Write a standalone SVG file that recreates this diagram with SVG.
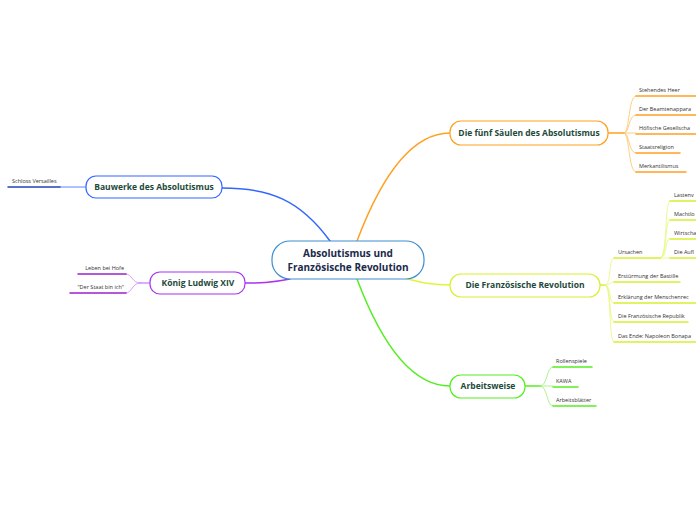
<svg xmlns="http://www.w3.org/2000/svg" width="696" height="520" viewBox="0 0 696 520">
<style>
text{font-family:"Open Sans","Noto Sans",sans-serif}
.m{font-size:8.5px;font-weight:bold;fill:#1d4a3a;text-anchor:middle}
.l{font-size:5.5px;fill:#333}
.n{fill:#fff;stroke-width:1.2}
path{fill:none}
</style>
<rect width="696" height="520" fill="#fff"/>
<g id="connectors" stroke-linecap="round">
<path d="M330 241 C300 200 270 188 222 188" stroke="#3366ff" stroke-width="1.5"/>
<path d="M86 187 L60 187" stroke="#3366ff" stroke-width="0.8"/>
<path d="M8 187 H60" stroke="#2244bb" stroke-width="1.5"/>
<path d="M357 241 C380 180 410 133 450 133" stroke="#ffa020" stroke-width="1.5"/>
<path d="M608 133 H624" stroke="#ffa020" stroke-width="1.5"/>
<g stroke="#ffc060" stroke-width="0.8"><path d="M624 133 C630 133 628 96 636 96"/><path d="M624 133 C630 133 628 115 636 115"/><path d="M624 133 H636"/><path d="M624 133 C630 133 628 153 636 153"/><path d="M624 133 C630 133 628 172 636 172"/></g>
<g stroke="#ffa020" stroke-width="1.5"><path d="M636 96 H696"/><path d="M636 115 H696"/><path d="M636 134 H696"/><path d="M636 153 H680"/><path d="M636 172 H686"/></g>
<path d="M404 278 C420 282 430 285 450 285" stroke="#e0f53a" stroke-width="1.5"/>
<path d="M600 285 H605" stroke="#d8f030" stroke-width="1.5"/>
<g stroke="#e6f77a" stroke-width="0.8"><path d="M605 285 C612 285 608 258 614 258"/><path d="M605 285 C610 285 610 282 614 282"/><path d="M605 285 C612 285 608 303 614 303"/><path d="M605 285 C612 285 608 322 614 322"/><path d="M605 285 C612 285 608 342 614 342"/><path d="M660 258 C668 258 664 201 670 201"/><path d="M660 258 C668 258 664 220 670 220"/><path d="M660 258 C668 258 664 239 670 239"/><path d="M660 258 H670"/></g>
<g stroke="#d8f030" stroke-width="1.5"><path d="M614 258 H660"/><path d="M614 282 H680"/><path d="M614 303 H696"/><path d="M614 322 H688"/><path d="M614 342 H696"/><path d="M670 201 H696"/><path d="M670 220 H696"/><path d="M670 239 H696"/><path d="M670 258 H696"/></g>
<path d="M357 279 C380 340 410 386 450 386" stroke="#55ee22" stroke-width="1.5"/>
<path d="M525 386 H540" stroke="#55ee22" stroke-width="1.5"/>
<g stroke="#99f070" stroke-width="0.8"><path d="M540 386 C548 386 546 367 553 367"/><path d="M540 386 H553"/><path d="M540 386 C548 386 546 406 553 406"/></g>
<g stroke="#55ee22" stroke-width="1.5"><path d="M553 367 H592"/><path d="M553 387 H578"/><path d="M553 406 H596"/></g>
<path d="M290 279 C270 283 260 283 245 283" stroke="#aa33ee" stroke-width="1.5"/>
<path d="M150 283 H140" stroke="#aa33ee" stroke-width="0.8"/>
<g stroke="#cc88f5" stroke-width="0.8"><path d="M140 283 C132 283 132 274 126 274"/><path d="M140 283 C132 283 132 293 126 293"/></g>
<g stroke="#9922cc" stroke-width="1.5"><path d="M78 274 H126"/><path d="M70 293 H126"/></g>
</g>
<g id="center"><rect x="272" y="241" width="152" height="38" rx="18" class="n" stroke="#3d8ecf"/><text x="348" y="257" class="m" style="font-size:10px;fill:#1a2a4a">Absolutismus und</text><text x="348" y="271" class="m" style="font-size:10px;fill:#1a2a4a">Französische Revolution</text></g>
<g id="saeulen"><rect x="450" y="121" width="158" height="24" rx="11" class="n" stroke="#ffa020"/><text x="529" y="136" class="m">Die fünf Säulen des Absolutismus</text>
<text x="639" y="92" class="l">Stehendes Heer</text><text x="639" y="111" class="l">Der Beamtenappara</text><text x="639" y="130" class="l">Höfische Gesellscha</text><text x="639" y="149" class="l">Staatsreligion</text><text x="639" y="168" class="l">Merkantilismus</text></g>
<g id="revolution"><rect x="450" y="274" width="150" height="23" rx="11" class="n" stroke="#d8f030"/><text x="525" y="288" class="m">Die Französische Revolution</text>
<text x="618" y="254" class="l">Ursachen</text><text x="674" y="197" class="l">Lastenv</text><text x="674" y="216" class="l">Machtlo</text><text x="674" y="235" class="l">Wirtscha</text><text x="674" y="254" class="l">Die Aufl</text>
<text x="618" y="278" class="l">Erstürmung der Bastille</text><text x="618" y="299" class="l">Erklärung der Menschenrec</text><text x="618" y="318" class="l">Die Französische Republik</text><text x="618" y="338" class="l">Das Ende: Napoleon Bonapa</text></g>
<g id="arbeitsweise"><rect x="450" y="375" width="75" height="23" rx="11" class="n" stroke="#55ee22"/><text x="488" y="389" class="m">Arbeitsweise</text>
<text x="556" y="363" class="l">Rollenspiele</text><text x="556" y="383" class="l">KAWA</text><text x="556" y="402" class="l">Arbeitsblätter</text></g>
<g id="bauwerke"><rect x="86" y="176" width="136" height="22" rx="10" class="n" stroke="#3366ff"/><text x="154" y="190" class="m">Bauwerke des Absolutismus</text><text x="12" y="183" class="l">Schloss Versailles</text></g>
<g id="ludwig"><rect x="150" y="272" width="95" height="22" rx="10" class="n" stroke="#aa33ee"/><text x="198" y="286" class="m">König Ludwig XIV</text><text x="124" y="270" class="l" text-anchor="end">Leben bei Hofe</text><text x="124" y="289" class="l" text-anchor="end">"Der Staat bin ich"</text></g>
</svg>
